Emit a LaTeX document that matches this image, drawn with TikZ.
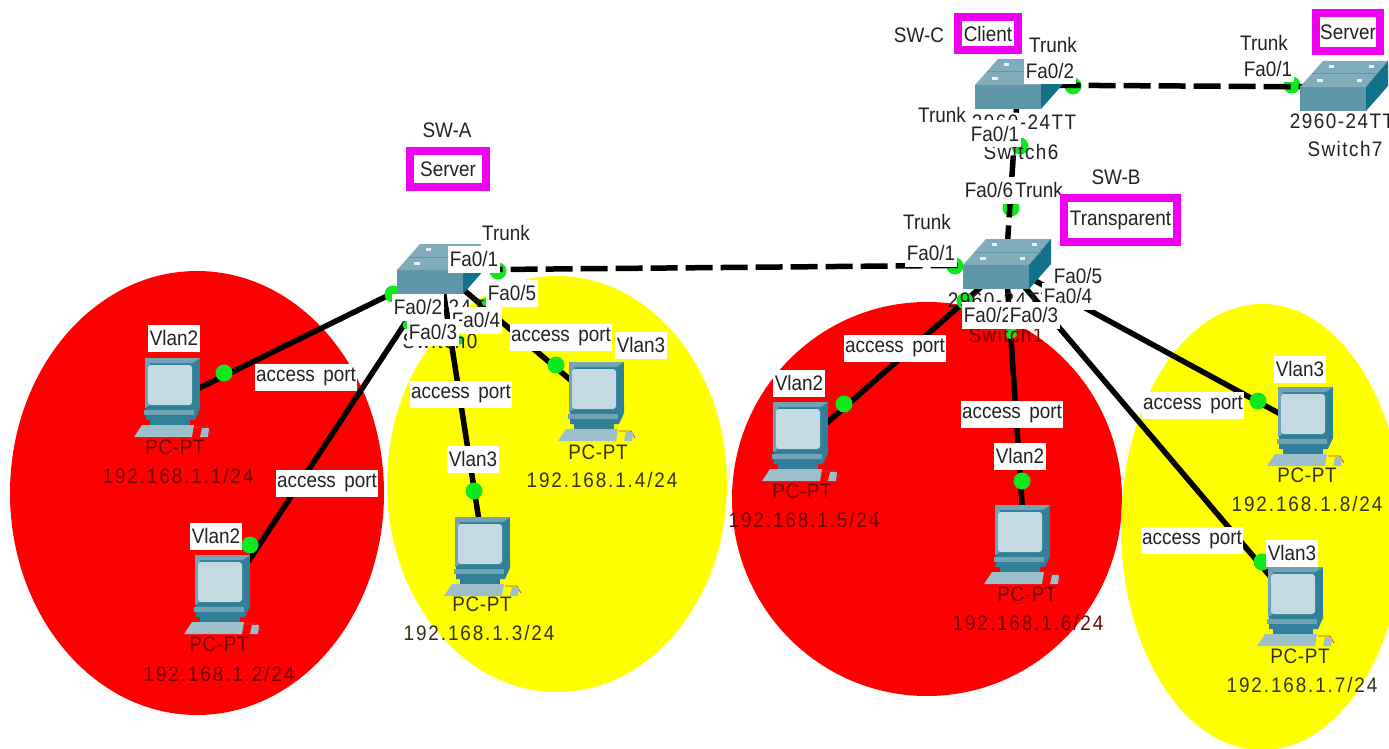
\documentclass[tikz,border=0pt]{standalone}
\usepackage{fontspec}
\setmainfont{Liberation Sans}
\newfontfamily\diagfont[FakeStretch=0.9,WordSpace=1.6]{Liberation Sans}
\newfontfamily\ipfont[FakeStretch=0.9,LetterSpace=9]{Liberation Sans}
\newfontfamily\ptfont[FakeStretch=0.9,LetterSpace=3]{Liberation Sans}
\newfontfamily\capfont[FakeStretch=0.9,LetterSpace=7]{Liberation Sans}
\definecolor{zoneyellow}{RGB}{255,255,0}
\definecolor{zonered}{RGB}{255,0,0}
\definecolor{swfront}{HTML}{5E97AA}
\definecolor{swtop}{HTML}{80ABBA}
\definecolor{swside}{HTML}{11728A}
\definecolor{pcdark}{HTML}{2F8098}
\definecolor{pcmid}{HTML}{6FA3B5}
\definecolor{pcscreen}{HTML}{C4DAE3}
\definecolor{pckey}{HTML}{9DBECB}
\definecolor{dotgreen}{HTML}{0FE81E}
\definecolor{boxmag}{HTML}{F000F0}
\definecolor{onred}{HTML}{6E0505}
\definecolor{onyellow}{HTML}{33331A}
\definecolor{ink}{HTML}{222222}
\tikzset{
  link/.style={draw=black,line width=5.5pt},
  trunk/.style={link,dash pattern=on 27pt off 8pt},
  port/.style={circle,fill=dotgreen,inner sep=0pt,minimum size=17pt},
  anchorbox/.style={inner sep=0pt,minimum size=1pt},
  lbl/.style={fill=white,inner sep=1.5pt,minimum height=27pt,text=ink,font=\diagfont\fontsize{21}{23}\selectfont},
  plain/.style={inner sep=0pt,text=ink,font=\diagfont\fontsize{21}{23}\selectfont},
  mode/.style={draw=boxmag,line width=8pt,fill=white,inner sep=0pt,text=ink,font=\diagfont\fontsize{21}{23}\selectfont},
  pclabel/.style={inner sep=0pt,font=\ptfont\fontsize{21}{23}\selectfont},
  iplabel/.style={inner sep=0pt,font=\ipfont\fontsize{21}{23}\selectfont},
  swlabel/.style={inner sep=0pt,text=ink,font=\capfont\fontsize{21}{23}\selectfont}
}
\newcommand{\swicon}[1]{%
  \begin{scope}[shift={(#1)}]
    \fill[swtop] (-43,0) -- (-20,-26) -- (45,-26) -- (23,0) -- cycle;
    \fill[swfront] (-43,0) rectangle (23,24);
    \fill[swside] (23,0) -- (45,-26) -- (45,-1) -- (23,24) -- cycle;
    \draw[swfront,line width=1pt] (-31,-13) -- (35,-13);
    \fill[white!85!swtop] (-14,-22) rectangle (-9,-19);
    \fill[white!85!swtop] (26,-22) rectangle (31,-19);
    \fill[white!85!swtop] (-26,-8) rectangle (-20,-5);
    \fill[white!85!swtop] (14,-8) rectangle (19,-5);
  \end{scope}}
\newcommand{\pcicon}[1]{%
  \begin{scope}[shift={(#1)}]
    \draw[red!45!gray,line width=0.8pt] (20,27) -- (32,27) -- (36,34);
    \fill[pcdark] (-30,-42) -- (25,-42) -- (25,8) -- (-30,8) -- cycle;
    \fill[pcmid] (-30,-42) -- (25,-42) -- (18,-37) -- (-25,-37) -- cycle;
    \fill[pcmid] (-30,-42) -- (-25,-37) -- (-25,5) -- (-30,8) -- cycle;
    \fill[pcscreen,rounded corners=3pt] (-27,-35) rectangle (17,5);
    \fill[pcdark] (-29,8) -- (20,8) -- (25,0) -- (25,9) -- (20,20) -- (-29,20) -- cycle;
    \fill[pcmid] (-31,10) rectangle (19,15);
    \fill[pcdark] (-25,20) rectangle (15,25);
    \fill[pckey] (-33,25) -- (19,25) -- (17,37) -- (-41,37) -- cycle;
    \fill[pckey] (25,37) -- (27,28) -- (34,28) -- (33,37) -- cycle;
  \end{scope}}
\newcommand{\lb}[4]{\node[lbl] (#1) at (#2,#3) {#4};}
\begin{document}
\begin{tikzpicture}[x=1pt,y=-1pt]
\useasboundingbox (0,0) rectangle (1389,749);
\fill[white] (0,0) rectangle (1389,749);
% zones
\fill[zonered] (197,493) ellipse [x radius=187,y radius=222];
\fill[zoneyellow] (557,484) ellipse [x radius=170,y radius=208];
\fill[zonered] (927,499) ellipse [x radius=195,y radius=197];
\fill[zoneyellow] (1262,527) ellipse [x radius=141,y radius=223];
% device anchors
\node[anchorbox] (swA) at (440,270) {};
\node[anchorbox] (swB) at (1006,265) {};
\node[anchorbox] (swC) at (1018,85) {};
\node[anchorbox] (swD) at (1343,87) {};
\node[anchorbox] (pc1) at (175,400) {};
\node[anchorbox] (pc2) at (225,597) {};
\node[anchorbox] (pc3) at (485,559) {};
\node[anchorbox] (pc4) at (599,404) {};
\node[anchorbox] (pc5) at (803,444) {};
\node[anchorbox] (pc6) at (1025,547) {};
\node[anchorbox] (pc7) at (1298,609) {};
\node[anchorbox] (pc8) at (1308,429) {};
% switch-end port lights lie under the trunks
\node[port] (dA1) at (498,271) {};
\node[port] (dB1) at (955,266) {};
\node[port] (dC1) at (1073,86) {};
\node[port] (dD1) at (1292,85) {};
\node[port] (dC2) at (1020,146) {};
\node[port] (dB6) at (1011,208) {};
% connectors
\draw[trunk] (swA) -- (swB);
\draw[trunk] (swC) -- (swD);
\draw[trunk] (swC) -- (swB);
\draw[link] (swA) -- (pc1);
\draw[link] (swA) -- (pc2);
\draw[link] (swA) -- (pc3);
\draw[link] (swA) -- (pc4);
\draw[link] (swB) -- (pc5);
\draw[link] (swB) -- (pc6);
\draw[link] (swB) -- (pc7);
\draw[link] (swB) -- (pc8);
% port lights
\node[port] (dA2) at (393,294) {};
\node[port,minimum size=9pt] (dA3) at (407,325) {};
\node[port,minimum size=9pt] (dA4) at (460,340) {};
\node[port,minimum size=9pt] (dA5) at (486,302) {};
\node[port] (dP1) at (224,373) {};
\node[port] (dP2) at (250,545) {};
\node[port] (dP3) at (474,491) {};
\node[port] (dP4) at (556,365) {};
\node[port] (dB2) at (965,301) {};
\node[port,minimum size=12pt] (dB3) at (1011,333) {};
\node[port] (dP5) at (844,404) {};
\node[port] (dP6) at (1022,481) {};
\node[port] (dP8) at (1258,401) {};
\node[port] (dP7) at (1262,562) {};
% icons
\swicon{swA}\swicon{swB}\swicon{swC}\swicon{swD}
\pcicon{pc1}\pcicon{pc2}\pcicon{pc3}\pcicon{pc4}
\pcicon{pc5}\pcicon{pc6}\pcicon{pc7}\pcicon{pc8}
% device captions
\node[swlabel] (mA1) at (445,307) {2960-24TT};
\node[swlabel] (mA2) at (440,341) {Switch0};
\node[swlabel] (mB1) at (1000,300) {2960-24TT};
\node[swlabel,text=onred] (mB2) at (1006,335) {Switch1};
\node[swlabel] (mC1) at (1024,122) {2960-24TT};
\node[swlabel] (mC2) at (1021,152) {Switch6};
\node[swlabel] (mD1) at (1342,121) {2960-24TT};
\node[swlabel] (mD2) at (1345,149) {Switch7};
% PC captions
\node[pclabel,text=onred] (t1) at (175,447) {PC-PT};
\node[iplabel,text=onred] (i1) at (178,476) {192.168.1.1/24};
\node[pclabel,text=onred] (t2) at (219,644) {PC-PT};
\node[iplabel,text=onred] (i2) at (219,674) {192.168.1.2/24};
\node[pclabel,text=onyellow] (t3) at (482,604) {PC-PT};
\node[iplabel,text=onyellow] (i3) at (479,633) {192.168.1.3/24};
\node[pclabel,text=onyellow] (t4) at (598,452) {PC-PT};
\node[iplabel,text=onyellow] (i4) at (602,480) {192.168.1.4/24};
\node[pclabel,text=onred] (t5) at (802,491) {PC-PT};
\node[iplabel,text=onred] (i5) at (804,520) {192.168.1.5/24};
\node[pclabel,text=onred] (t6) at (1027,594) {PC-PT};
\node[iplabel,text=onred] (i6) at (1028,623) {192.168.1.6/24};
\node[pclabel,text=onyellow] (t7) at (1300,656) {PC-PT};
\node[iplabel,text=onyellow] (i7) at (1302,685) {192.168.1.7/24};
\node[pclabel,text=onyellow] (t8) at (1307,475) {PC-PT};
\node[iplabel,text=onyellow] (i8) at (1307,504) {192.168.1.8/24};
% VLAN labels
\lb{v1}{174}{338}{Vlan2}
\lb{v2}{216}{536}{Vlan2}
\lb{v3}{473}{459}{Vlan3}
\lb{v4}{641}{345}{Vlan3}
\lb{v5}{799}{383}{Vlan2}
\lb{v6}{1020}{456}{Vlan2}
\lb{v7}{1292}{553}{Vlan3}
\lb{v8}{1300}{369}{Vlan3}
% access port labels
\lb{a1}{306}{377}{access port}
\lb{a2}{327}{483}{access port}
\lb{a3}{461}{394}{access port}
\lb{a4}{561}{337}{access port}
\lb{a5}{895}{348}{access port}
\lb{a6}{1012}{414}{access port}
\lb{a7}{1193}{405}{access port}
\lb{a8}{1192}{540}{access port}
% port labels: SW-A
\lb{pa0}{506}{233}{Trunk}
\lb{pa1}{474}{259}{Fa0/1}
\lb{pa5}{512}{293}{Fa0/5}
\lb{pa2}{418}{307}{Fa0/2}
\lb{pa4}{476}{320}{Fa0/4}
\lb{pa3}{433}{332}{Fa0/3}
% port labels: SW-B
\lb{pb0}{927}{222}{Trunk}
\lb{pb1}{931}{253}{Fa0/1}
\lb{pb5}{1078}{276}{Fa0/5}
\lb{pb4}{1068}{296}{Fa0/4}
\lb{pb2}{988}{315}{Fa0/2}
\lb{pb3}{1034}{315}{Fa0/3}
\lb{pb6}{989}{190}{Fa0/6}
\lb{pb7}{1039}{190}{Trunk}
% port labels: SW-C and the server
\lb{pc0}{1053}{45}{Trunk}
\lb{pcb}{1050}{71}{Fa0/2}
\lb{pcc}{942}{115}{Trunk}
\lb{pcd}{995}{134}{Fa0/1}
\lb{pd0}{1264}{43}{Trunk}
\lb{pd1}{1268}{69}{Fa0/1}
% switch names and VTP modes
\node[plain] (nA) at (447,130) {SW-A};
\node[plain] (nB) at (1116,177) {SW-B};
\node[plain] (nC) at (919,35) {SW-C};
\node[mode,minimum width=76pt,minimum height=36pt] (mA) at (448,169) {Server};
\node[mode,minimum width=113pt,minimum height=44pt] (mB) at (1120.5,220) {Transparent};
\node[mode,minimum width=60pt,minimum height=33pt] (mC) at (988,33.5) {Client};
\node[mode,minimum width=64pt,minimum height=38pt] (mD) at (1348,32) {Server};
\end{tikzpicture}
\end{document}
